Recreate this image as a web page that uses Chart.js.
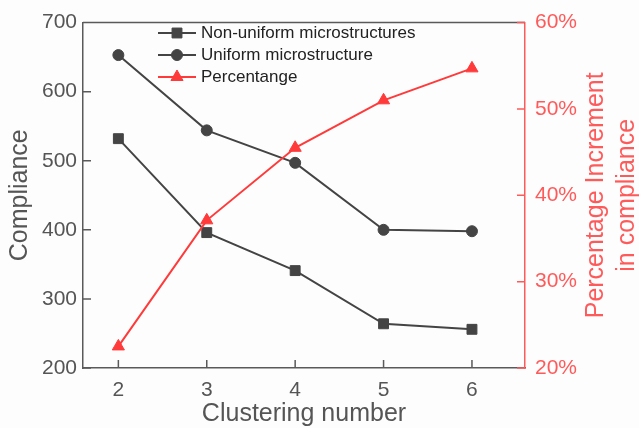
<!DOCTYPE html>
<html>
<head>
<meta charset="utf-8">
<script src="https://cdn.jsdelivr.net/npm/chart.js@4"></script>
<style>
  html, body { margin: 0; padding: 0; background: #fdfdfd; }
  #wrap { width: 639px; height: 428px; }
</style>
</head>
<body>
<div id="wrap"><canvas id="chart" width="639" height="428"></canvas></div>
<script>
const clusters = [2, 3, 4, 5, 6];
const nonUniform = [532, 396, 341, 264, 256];
const uniform = [653, 544, 497, 400, 398];
const percentage = [22.5, 37.1, 45.5, 51.0, 54.7];
const xTicks = [2, 3, 4, 5, 6];

const GREY = '#444444';
const AXIS = '#5a5a5a';
const RED = '#ff3a3a';
const RED_AXIS = '#ff5a5a';
const FONT = '"Liberation Sans", Arial, sans-serif';

const pts = arr => arr.map((v, i) => ({x: clusters[i], y: v}));

// ticks point into the plot, frame closed on top, right title reads upward
const framePlugin = {
  id: 'frame',
  afterDraw(chart) {
    const {ctx, chartArea: a, scales} = chart;
    ctx.save();
    ctx.lineWidth = 1.5;
    ctx.strokeStyle = AXIS;
    ctx.beginPath();
    ctx.moveTo(a.left, a.top); ctx.lineTo(a.right, a.top);
    scales.x.ticks.forEach(t => {
      const px = scales.x.getPixelForValue(t.value);
      ctx.moveTo(px, a.bottom); ctx.lineTo(px, a.bottom - 8);
    });
    scales.y.ticks.forEach(t => {
      const py = scales.y.getPixelForValue(t.value);
      ctx.moveTo(a.left, py); ctx.lineTo(a.left + 8, py);
    });
    ctx.stroke();
    ctx.strokeStyle = RED_AXIS;
    ctx.beginPath();
    scales.y1.ticks.forEach(t => {
      const py = scales.y1.getPixelForValue(t.value);
      ctx.moveTo(a.right, py); ctx.lineTo(a.right - 8, py);
    });
    ctx.stroke();

    // right axis title
    const cy = (a.top + a.bottom) / 2;
    ctx.fillStyle = RED_AXIS;
    ctx.font = '25px ' + FONT;
    ctx.textAlign = 'center';
    ctx.textBaseline = 'middle';
    ctx.translate(596, cy);
    ctx.rotate(-Math.PI / 2);
    ctx.fillText('Percentage Increment', 0, 0);
    ctx.fillText('in compliance', 0, 31);
    ctx.restore();
  }
};

// legend inside the plot: short line with marker, then label
const legendPlugin = {
  id: 'innerLegend',
  afterDraw(chart) {
    const {ctx} = chart;
    const rows = [33, 55, 77];
    const order = [1, 2, 0];
    ctx.save();
    ctx.font = '17px ' + FONT;
    ctx.textBaseline = 'middle';
    ctx.textAlign = 'left';
    order.forEach((di, k) => {
      const ds = chart.data.datasets[di];
      const y = rows[k];
      ctx.strokeStyle = ds.borderColor;
      ctx.lineWidth = ds.borderWidth;
      ctx.beginPath();
      ctx.moveTo(158, y); ctx.lineTo(196, y);
      ctx.stroke();
      ctx.fillStyle = ds.pointBackgroundColor;
      ctx.strokeStyle = ds.pointBorderColor;
      ctx.lineWidth = 1;
      Chart.helpers.drawPoint(ctx, {pointStyle: ds.pointStyle, radius: ds.pointRadius, rotation: 0, borderWidth: 1}, 177, y);
      ctx.fillStyle = '#222';
      ctx.fillText(ds.label, 201, y);
    });
    ctx.restore();
  }
};

new Chart(document.getElementById('chart'), {
  type: 'line',
  data: {
    datasets: [
      {label: 'Percentange', data: pts(percentage), yAxisID: 'y1', order: 0,
       borderColor: RED, borderWidth: 2, pointStyle: 'triangle', pointRadius: 7,
       pointBackgroundColor: RED, pointBorderColor: RED, pointBorderWidth: 1},
      {label: 'Non-uniform microstructures', data: pts(nonUniform), yAxisID: 'y', order: 1,
       borderColor: GREY, borderWidth: 2, pointStyle: 'rect', pointRadius: 7,
       pointBackgroundColor: GREY, pointBorderColor: GREY, pointBorderWidth: 1},
      {label: 'Uniform microstructure', data: pts(uniform), yAxisID: 'y', order: 1,
       borderColor: GREY, borderWidth: 2, pointStyle: 'circle', pointRadius: 5.5,
       pointBackgroundColor: GREY, pointBorderColor: GREY, pointBorderWidth: 1}
    ]
  },
  options: {
    responsive: false,
    animation: false,
    layout: {padding: {top: 20, left: 0, right: 0, bottom: 0}},
    plugins: {legend: {display: false}, tooltip: {enabled: false}},
    scales: {
      x: {
        type: 'linear', position: 'bottom', min: 1.6, max: 6.6,
        afterBuildTicks: s => { s.ticks = xTicks.map(v => ({value: v})); },
        afterFit: s => { s.height = 60; },
        grid: {display: false, drawTicks: false},
        border: {color: AXIS, width: 1.5},
        ticks: {color: '#555', font: {family: FONT, size: 21}, padding: 10, maxRotation: 0},
        title: {display: true, text: 'Clustering number', color: '#555',
                font: {family: FONT, size: 25, lineHeight: 1.1}, padding: {top: 0, bottom: 0}}
      },
      y: {
        position: 'left', min: 200, max: 700,
        afterFit: s => { s.width = 83; },
        grid: {display: false, drawTicks: false},
        border: {color: AXIS, width: 1.5},
        ticks: {stepSize: 100, color: '#555', font: {family: FONT, size: 21}, padding: 6},
        title: {display: true, text: 'Compliance', color: '#555',
                font: {family: FONT, size: 25, lineHeight: 1.2}, padding: {top: 5, bottom: 0}}
      },
      y1: {
        position: 'right', min: 20, max: 60,
        afterFit: s => { s.width = 114; },
        grid: {display: false, drawTicks: false},
        border: {color: RED_AXIS, width: 1.5},
        ticks: {stepSize: 10, color: RED_AXIS, font: {family: FONT, size: 21}, padding: 10,
                callback: v => v + '%'}
      }
    }
  },
  plugins: [framePlugin, legendPlugin]
});
</script>
</body>
</html>
